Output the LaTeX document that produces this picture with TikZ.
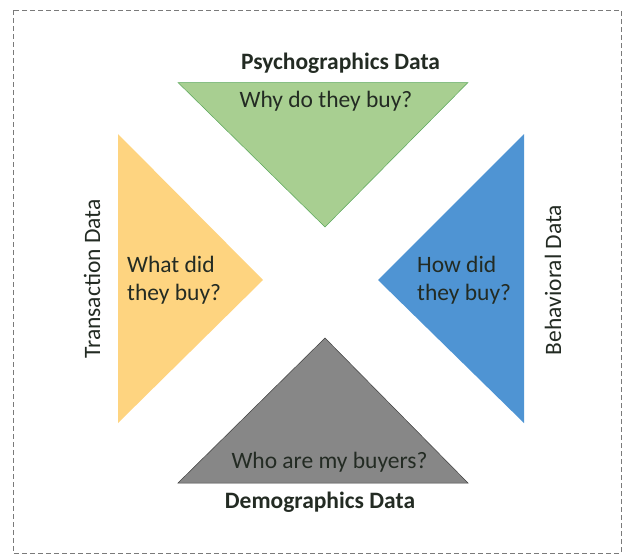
\documentclass[tikz,border=0pt]{standalone}
\usepackage{fontspec}
\setmainfont{Carlito}
\begin{document}
\begin{tikzpicture}[x=1pt,y=-1pt,
  txt/.style={text=txtc,font=\fontsize{23.5}{28.5}\selectfont,inner sep=0pt},
  ttl/.style={txt,font=\fontsize{23.5}{28.5}\selectfont\bfseries},
  side/.style={txt,rotate=90}]
\definecolor{txtc}{HTML}{232B23}
\definecolor{gfill}{HTML}{A8CF91}
\definecolor{yfill}{HTML}{FED480}
\definecolor{bfill}{HTML}{4F94D3}
\definecolor{kfill}{HTML}{878787}
\definecolor{brd}{HTML}{7A7A7A}
\useasboundingbox (0,0) rectangle (630,560);
\draw[brd,dash pattern=on 5pt off 3pt,line width=1pt] (13,10) rectangle (621,553);
% triangles
\fill[gfill,draw=gray!70!green,line width=0.5pt] (178,82.5) -- (468,82.5) -- (325,227) -- cycle;
\fill[yfill] (118,134) -- (263,280) -- (118,423) -- cycle;
\fill[bfill] (524,134) -- (378,280) -- (524,423) -- cycle;
\fill[kfill,draw=black!75,line width=0.5pt] (325,338) -- (468,483) -- (178,483) -- cycle;
% texts
\node[ttl] (psy) at (340.5,63) {Psychographics Data};
\node[txt] (why) at (326,101) {Why do they buy?};
\node[ttl] (demo) at (320,502) {Demographics Data};
\node[txt] (who) at (329.5,462) {Who are my buyers?};
\node[side] (trans) at (92,279) {Transaction Data};
\node[side] (beh) at (553,280) {Behavioral Data};
\node[txt,align=left,anchor=west] (what) at (127,280) {What did\\they buy?};
\node[txt,align=left,anchor=west] (how) at (417,280) {How did\\they buy?};
\end{tikzpicture}
\end{document}
